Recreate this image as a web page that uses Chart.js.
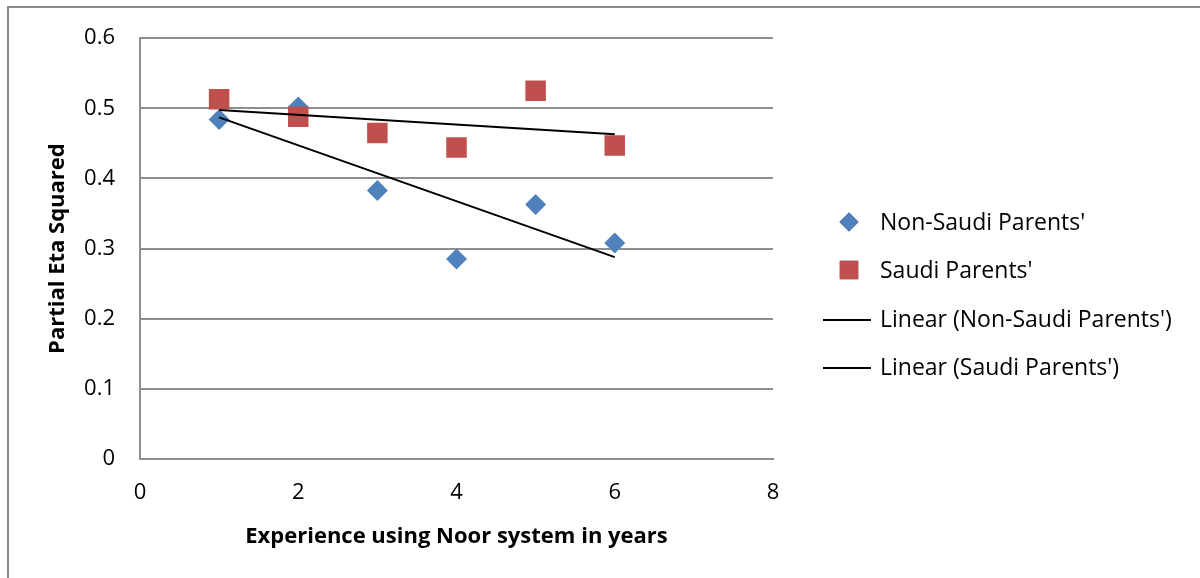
<!DOCTYPE html>
<html>
<head>
<meta charset="utf-8">
<script src="https://cdn.jsdelivr.net/npm/chart.js@4"></script>
<style>
  body { margin: 0; background: #fff; }
</style>
</head>
<body>
<canvas id="etaChart" width="1200" height="578"></canvas>
<script>
// years of experience with Noor
var years = [1, 2, 3, 4, 5, 6];
var nonSaudi = [0.484, 0.502, 0.383, 0.285, 0.363, 0.308];
var saudi = [0.513, 0.488, 0.465, 0.444, 0.525, 0.447];
var yTicks = [0, 0.1, 0.2, 0.3, 0.4, 0.5, 0.6];
var xTicks = [0, 2, 4, 6, 8];

var BLUE = '#4F81BD';
var RED = '#C0504D';
var FONT = '"Open Sans", sans-serif';
var SIZE = 22;

function points(xs, ys) {
    return xs.map(function (x, i) { return { x: x, y: ys[i] }; });
}

// least squares line, drawn between first and last x
function trend(xs, ys) {
    var n = xs.length, sx = 0, sy = 0, sxy = 0, sxx = 0;
    for (var i = 0; i < n; i++) {
        sx += xs[i]; sy += ys[i]; sxy += xs[i] * ys[i]; sxx += xs[i] * xs[i];
    }
    var b = (n * sxy - sx * sy) / (n * sxx - sx * sx);
    var a = (sy - b * sx) / n;
    var x0 = xs[0], x1 = xs[n - 1];
    return [{ x: x0, y: a + b * x0 }, { x: x1, y: a + b * x1 }];
}

// thin frame along the top and left edge
var framePlugin = {
    id: 'frame',
    beforeDraw: function (chart) {
        var ctx = chart.ctx;
        ctx.save();
        ctx.strokeStyle = '#8a8a8a';
        ctx.lineWidth = 2;
        ctx.beginPath();
        ctx.moveTo(8, chart.height);
        ctx.lineTo(8, 7);
        ctx.lineTo(chart.width, 7);
        ctx.stroke();
        ctx.restore();
    }
};

// legend on the right: markers for the series, short lines for the trends
var sideLegend = {
    id: 'sideLegend',
    afterDraw: function (chart) {
        var ctx = chart.ctx;
        var rowY = [223, 271, 320, 368];
        var markX = 849, textX = 880;
        ctx.save();
        ctx.font = '23px ' + FONT;
        ctx.textBaseline = 'middle';
        ctx.fillStyle = '#000';
        chart.data.datasets.forEach(function (ds, i) {
            var y = rowY[i];
            if (ds.showLine) {
                ctx.strokeStyle = ds.borderColor;
                ctx.lineWidth = ds.borderWidth;
                ctx.beginPath();
                ctx.moveTo(823, y);
                ctx.lineTo(871, y);
                ctx.stroke();
            } else {
                Chart.helpers.drawPoint(ctx, {
                    pointStyle: ds.pointStyle,
                    radius: ds.pointStyle === 'rect' ? 13 : 9.5,
                    borderWidth: 0
                }, markX, y - 1);
                ctx.fillStyle = ds.backgroundColor;
                ctx.fill();
            }
            ctx.fillStyle = '#000';
            ctx.fillText(ds.label, textX, y);
        });
        ctx.restore();
    }
};

var ctx = document.getElementById('etaChart').getContext('2d');
var etaChart = new Chart(ctx, {
    type: 'scatter',
    data: {
        datasets: [{
            label: "Non-Saudi Parents'",
            data: points(years, nonSaudi),
            pointStyle: 'rectRot',
            pointRadius: 10.5,
            backgroundColor: BLUE,
            borderColor: BLUE,
            borderWidth: 0,
            order: 3
        }, {
            label: "Saudi Parents'",
            data: points(years, saudi),
            pointStyle: 'rect',
            pointRadius: 14.5,
            backgroundColor: RED,
            borderColor: RED,
            borderWidth: 0,
            order: 2
        }, {
            label: "Linear (Non-Saudi Parents')",
            data: trend(years, nonSaudi),
            showLine: true,
            pointRadius: 0,
            borderColor: '#000',
            borderWidth: 2,
            order: 1
        }, {
            label: "Linear (Saudi Parents')",
            data: trend(years, saudi),
            showLine: true,
            pointRadius: 0,
            borderColor: '#000',
            borderWidth: 2,
            order: 0
        }]
    },
    options: {
        responsive: false,
        animation: false,
        layout: {
            padding: { top: 36, right: 427, left: 0, bottom: 0 }
        },
        scales: {
            x: {
                type: 'linear',
                min: 0,
                max: 8,
                afterBuildTicks: function (scale) {
                    scale.ticks = xTicks.map(function (v) { return { value: v }; });
                },
                grid: { display: false, drawTicks: false },
                border: { display: true, color: '#8e8e8e', width: 2 },
                ticks: { color: '#000', padding: 21, font: { family: FONT, size: SIZE } },
                title: {
                    display: true,
                    text: 'Experience using Noor system in years',
                    color: '#000',
                    font: { family: FONT, size: SIZE, weight: 'bold' },
                    padding: { top: 0, bottom: 28 }
                },
                afterFit: function (scale) { scale.height = 578 - 459; }
            },
            y: {
                min: 0,
                max: 0.6,
                afterBuildTicks: function (scale) {
                    scale.ticks = yTicks.map(function (v) { return { value: v }; });
                },
                grid: { color: '#8e8e8e', lineWidth: 2, drawTicks: false },
                border: { display: true, color: '#8e8e8e', width: 2 },
                ticks: { color: '#000', padding: 25, font: { family: FONT, size: SIZE } },
                title: {
                    display: true,
                    text: 'Partial Eta Squared',
                    color: '#000',
                    font: { family: FONT, size: SIZE, weight: 'bold' },
                    padding: { top: 45, bottom: 0 }
                },
                afterFit: function (scale) { scale.width = 140; }
            }
        },
        plugins: {
            legend: { display: false },
            tooltip: { enabled: false }
        }
    },
    plugins: [framePlugin, sideLegend]
});
</script>
</body>
</html>
